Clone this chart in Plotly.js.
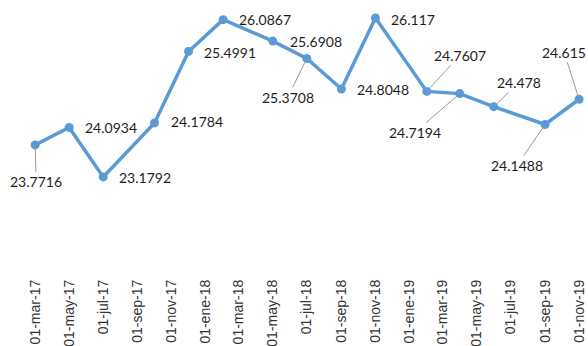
<!DOCTYPE html>
<html>
<head>
<meta charset="utf-8">
<script src="https://cdn.plot.ly/plotly-3.0.1.min.js"></script>
<style>html,body{margin:0;padding:0;background:#fff;}#chart{width:588px;height:346px;}</style>
</head>
<body>
<div id="chart"></div>
<script>
const dates = ['2017-03-01','2017-05-01','2017-07-01','2017-10-01','2017-12-01','2018-02-01','2018-05-01','2018-07-01','2018-09-01','2018-11-01','2019-02-01','2019-04-01','2019-06-01','2019-09-01','2019-11-01'];
const values = [23.7716,24.0934,23.1792,24.1784,25.4991,26.0867,25.6908,25.3708,24.8048,26.117,24.7607,24.7194,24.478,24.1488,24.615];
const labelTexts = ['23.7716','24.0934','23.1792','24.1784','25.4991','26.0867','25.6908','25.3708','24.8048','26.117','24.7607','24.7194','24.478','24.1488','24.615'];
const tickDates = ['2017-03-01','2017-05-01','2017-07-01','2017-09-01','2017-11-01','2018-01-01','2018-03-01','2018-05-01','2018-07-01','2018-09-01','2018-11-01','2019-01-01','2019-03-01','2019-05-01','2019-07-01','2019-09-01','2019-11-01'];
const tickLabels = ['01-mar-17','01-may-17','01-jul-17','01-sep-17','01-nov-17','01-ene-18','01-mar-18','01-may-18','01-jul-18','01-sep-18','01-nov-18','01-ene-19','01-mar-19','01-may-19','01-jul-19','01-sep-19','01-nov-19'];

// label placement (pixel offsets from point to label centre) and whether a leader line is drawn
const labelOffsets = [[1,37,1],[42,0,0],[42,1,0],[42,-1,0],[41,1,0],[42,0,0],[43,0,0],[-19,39,1],[42,0,0],[38,1,0],[33,-36,1],[-45,39,1],[25,-24,1],[-28,41,1],[-15,-47,1]];

const annotations = values.map((v,i)=>({
  x: dates[i], y: v, xref:'x', yref:'y',
  text: labelTexts[i],
  showarrow: true, arrowhead: 0, arrowwidth: 1,
  arrowcolor: labelOffsets[i][2] ? '#9a9a9a' : 'rgba(0,0,0,0)',
  ax: labelOffsets[i][0], ay: labelOffsets[i][1], standoff: 3,
  font: {family:'Lato, "Noto Sans", sans-serif', size:14, color:'#1e1e1e'}
}));

const trace = {
  x: dates, y: values, type:'scatter', mode:'lines+markers',
  line:{color:'#5b9bd5', width:3.5},
  marker:{color:'#5b9bd5', size:9},
  cliponaxis:false, hoverinfo:'skip'
};

const layout = {
  width:588, height:346,
  margin:{l:0,r:0,t:0,b:70,pad:0},
  paper_bgcolor:'#fff', plot_bgcolor:'#fff',
  showlegend:false,
  xaxis:{type:'date', range:['2016-12-28','2019-11-17'], tickvals:tickDates, ticktext:tickLabels,
    tickangle:-90, showgrid:false, zeroline:false, showline:false, ticks:'',
    tickfont:{family:'"Liberation Sans", Arial, sans-serif', size:14, color:'#333'}},
  yaxis:{range:[21.348,26.45], visible:false, showgrid:false, zeroline:false},
  annotations: annotations
};

Plotly.newPlot('chart',[trace],layout,{displayModeBar:false,staticPlot:true});
</script>
</body>
</html>
